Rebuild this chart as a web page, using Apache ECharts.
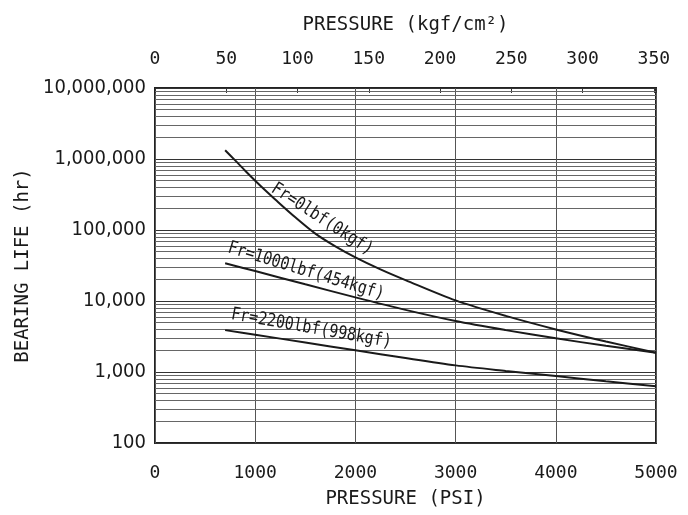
<!DOCTYPE html>
<html>
<head>
<meta charset="utf-8">
<script src="https://cdn.jsdelivr.net/npm/echarts@6/dist/echarts.min.js"></script>
<style>
html,body{margin:0;padding:0;background:#fff;}
#chart{width:688px;height:515px;}
</style>
</head>
<body>
<div id="chart"></div>
<script>
// ---- data ----
const psiFr0 = [700, 800, 900, 1000, 1100, 1200, 1400, 1600, 1800, 2000, 2250, 2500, 3000, 3500, 4000, 4500, 5000];
const lifeFr0 = [1330000, 955000, 684000, 495000, 363000, 269000, 151000, 89000, 58900, 41200, 27900, 19700, 10200, 6170, 3980, 2690, 1870];
const psiFr1000 = [700, 1000, 1500, 2000, 2500, 3000, 3500, 4000, 4500, 5000];
const lifeFr1000 = [34000, 26400, 17200, 11250, 7500, 5220, 3890, 2980, 2340, 1870];
const psiFr2200 = [700, 1000, 1500, 2000, 2500, 3000, 3500, 4000, 4500, 5000];
const lifeFr2200 = [3890, 3350, 2600, 2020, 1570, 1240, 1035, 875, 741, 632];
const seriesNames = ['Fr=0lbf(0kgf)', 'Fr=1000lbf(454kgf)', 'Fr=2200lbf(998kgf)'];
const yTickLabels = ['100', '1,000', '10,000', '100,000', '1,000,000', '10,000,000'];
const bottomTickLabels = ['0', '1000', '2000', '3000', '4000', '5000'];
const topTickLabels = ['0', '50', '100', '150', '200', '250', '300', '350'];
const PSI_PER_KGF = 14.2233;

// ---- annotation placement (data coords) ----
const curveLabelAnchors = [
  { psi: 1667, life: 142000, angle: 33 },
  { psi: 1507, life: 26200, angle: 17 },
  { psi: 1560, life: 4100, angle: 10 }
];

const zip = (xs, ys) => xs.map((x, i) => [x, ys[i]]);
const minorLines = [];
[100, 1000, 10000, 100000, 1000000].forEach(d => {
  for (let m = 2; m <= 9; m++) minorLines.push({ yAxis: m * d });
});

const monoFont = "'DejaVu Sans Mono', monospace";
const narrowFont = "'Liberation Sans Narrow', 'DejaVu Sans Condensed', sans-serif";
const ink = '#1a1a1a';

const chart = echarts.init(document.getElementById('chart'), null, { renderer: 'canvas' });
const lineStyle = { color: ink, width: 2 };
chart.setOption({
  backgroundColor: '#fff',
  animation: false,
  grid: { left: 155, right: 32, top: 88, bottom: 72, outerBoundsMode: 'none', containLabel: false,
    show: true, borderColor: '#222', borderWidth: 2, backgroundColor: 'transparent' },
  xAxis: [
    {
      type: 'value', position: 'bottom', min: 0, max: 5000, interval: 1000,
      axisLine: { show: false }, axisTick: { show: false },
      axisLabel: { margin: 21, color: ink, fontFamily: monoFont, fontSize: 18,
        formatter: v => bottomTickLabels[Math.round(v / 1000)] ?? '' },
      splitLine: { show: true, lineStyle: { color: '#555', width: 1 } },
      name: 'PRESSURE (PSI)', nameLocation: 'middle', nameGap: 47,
      nameTextStyle: { color: ink, fontFamily: monoFont, fontSize: 19 }
    },
    {
      type: 'value', position: 'top', min: 0, max: 5000 / PSI_PER_KGF, interval: 50,
      axisLine: { show: false },
      axisTick: { show: true, inside: true, length: 5, lineStyle: { color: '#333' } },
      axisLabel: { margin: 20, color: ink, fontFamily: monoFont, fontSize: 18,
        formatter: v => (Math.abs(v / 50 - Math.round(v / 50)) < 1e-6 ? (topTickLabels[Math.round(v / 50)] ?? '') : '') },
      splitLine: { show: false },
      name: 'PRESSURE (kgf/cm²)', nameLocation: 'middle', nameGap: 53,
      nameTextStyle: { color: ink, fontFamily: monoFont, fontSize: 19 }
    }
  ],
  yAxis: {
    type: 'log', logBase: 10, min: 100, max: 10000000,
    axisLine: { show: false }, axisTick: { show: false },
    axisLabel: { margin: 9, color: ink, fontFamily: narrowFont, fontSize: 20,
      formatter: v => yTickLabels[Math.round(Math.log10(v)) - 2] ?? '' },
    splitLine: { show: true, lineStyle: { color: '#333', width: 1 } },
    name: 'BEARING LIFE (hr)', nameLocation: 'middle', nameGap: 102,
    nameTextStyle: { color: ink, fontFamily: monoFont, fontSize: 19 }
  },
  series: [
    {
      type: 'line', name: 'minor-grid', xAxisIndex: 0, yAxisIndex: 0, z: 1,
      data: [[0, 100]], symbol: 'none', lineStyle: { width: 0 }, silent: true,
      markLine: { silent: true, symbol: 'none', label: { show: false },
        lineStyle: { color: '#666', width: 1, type: 'solid' }, data: minorLines, animation: false }
    },
    { type: 'line', name: seriesNames[0], data: zip(psiFr0, lifeFr0), smooth: 0.3, symbol: 'none', lineStyle, z: 5 },
    { type: 'line', name: seriesNames[1], data: zip(psiFr1000, lifeFr1000), smooth: 0.3, symbol: 'none', lineStyle, z: 5 },
    { type: 'line', name: seriesNames[2], data: zip(psiFr2200, lifeFr2200), smooth: 0.3, symbol: 'none', lineStyle, z: 5 }
  ]
});

const graphics = curveLabelAnchors.map((a, i) => {
  const p = chart.convertToPixel({ xAxisIndex: 0, yAxisIndex: 0 }, [a.psi, a.life]);
  return {
    type: 'text', x: p[0], y: p[1], rotation: -a.angle * Math.PI / 180, scaleY: 1.2, z: 10,
    style: { text: seriesNames[i], fill: ink, font: "15px 'DejaVu Sans Mono', monospace",
      textAlign: 'center', textVerticalAlign: 'middle' }
  };
});
chart.setOption({ graphic: graphics });
</script>
</body>
</html>
